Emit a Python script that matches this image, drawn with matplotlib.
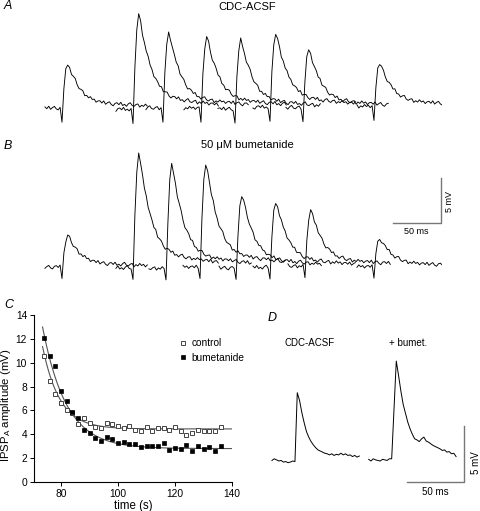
import numpy as np
import matplotlib
matplotlib.use('Agg')
import matplotlib.pyplot as plt

plt.rcParams['font.family'] = ['Liberation Sans', 'DejaVu Sans']

# ---- panel A / B : stimulus times (ms) and IPSP peak amplitudes (mV)
a_stim = [23.2, 98.1, 129.7, 169.8, 205.7, 242.6, 277.4, 352.3]
a_amp = [4.95, 10.7, 8.45, 8.0, 7.77, 8.33, 6.53, 4.84]
a_base = [0.0, -0.15, 0.0, 0.0, -0.1, 0.1, 0.05, 0.2]
b_stim = [23.2, 98.1, 132.9, 168.8, 206.8, 242.6, 279.5, 352.3]
b_amp = [3.5, 12.9, 11.7, 11.7, 8.2, 7.4, 6.3, 3.15]
b_base = [0.0, -0.1, -0.15, 0.0, -0.1, -0.05, 0.1, 0.05]

# normalised IPSP waveform, 2 ms steps from the stimulus
psp_shape = [0.0, 0.45, 0.85, 1.0, 0.92, 0.8, 0.7, 0.62, 0.54, 0.47, 0.41, 0.36,
             0.32, 0.28, 0.25, 0.22, 0.2, 0.18, 0.165, 0.15, 0.14, 0.13, 0.12,
             0.115, 0.11, 0.105, 0.1, 0.095, 0.09, 0.09, 0.085, 0.085, 0.08,
             0.08, 0.075, 0.075, 0.07, 0.07, 0.065, 0.065, 0.06, 0.06, 0.055,
             0.055, 0.05, 0.05]
noise = [0.12, -0.08, 0.2, -0.15, 0.05, 0.18, -0.1, -0.22, 0.08, 0.15, -0.05,
         0.22, -0.12, 0.02, -0.18, 0.1, 0.25, -0.06, -0.14, 0.07, 0.16, -0.2,
         0.04, -0.09, 0.19, -0.03, 0.11, -0.16, 0.06]

# ---- panel C : IPSP_A amplitude vs time
t_sec = list(range(74, 138, 2))
control = [10.6, 8.5, 7.4, 6.6, 6.0, 5.8, 4.9, 5.4, 4.95, 4.6, 4.5, 4.95, 4.9,
           4.7, 4.55, 4.7, 4.4, 4.25, 4.6, 4.25, 4.5, 4.5, 4.4, 4.6, 4.3, 3.9,
           4.1, 4.4, 4.25, 4.25, 4.3, 4.6]
bumet = [12.1, 10.55, 9.7, 7.6, 6.75, 5.85, 5.4, 4.35, 4.1, 3.7, 3.45, 3.75, 3.6,
         3.25, 3.35, 3.2, 3.15, 2.9, 3.05, 3.0, 3.0, 3.25, 2.7, 2.85, 2.75, 3.1,
         2.6, 3.0, 2.8, 2.9, 2.6, 3.0]
# single exponential fits: plateau, amplitude at 74 s, tau (s)
fit_control = (4.45, 6.35, 6.0)
fit_bumet = (2.8, 9.6, 8.3)

# ---- panel D : averaged traces (mV), 2 ms steps from 20 ms before the stimulus
d_ctrl = [0.1, 0.25, 0.15, 0.05, 0.1, -0.05, 0.0, -0.1, -0.05, 0.05,
          0.0, 6.2, 5.5, 4.4, 3.5, 2.7, 2.2, 1.8, 1.5, 1.25, 1.05, 0.95, 0.85,
          0.75, 0.7, 0.6, 0.7, 0.55, 0.65, 0.6, 0.75, 0.6, 0.7, 0.55, 0.6,
          0.45, 0.55, 0.4, 0.5]
d_bumet = [0.05, -0.1, 0.1, 0.0, -0.05, -0.1, 0.05, 0.0, -0.05, 0.1,
           0.1, 4.5, 8.9, 7.6, 6.2, 5.0, 4.2, 3.4, 2.8, 2.3, 1.9, 1.8, 1.65,
           1.9, 2.05, 1.7, 1.6, 1.45, 1.3, 1.2, 1.1, 1.0, 0.85, 0.9, 0.7, 0.75,
           0.55, 0.6, 0.3]
d_stim = [30.4, 114.5]
d_base = [-0.05, 0.1]

W, H = 480, 511
fig = plt.figure(figsize=(W / 100, H / 100), dpi=100)


def px_axes(x0, y0, x1, y1):
    return fig.add_axes([x0 / W, 1 - y1 / H, (x1 - x0) / W, (y1 - y0) / H])


def ftext(x, y, s, **kw):
    kw.setdefault('ha', 'center')
    kw.setdefault('va', 'center')
    fig.text(x / W, 1 - y / H, s, **kw)


def draw_sweeps(ax, stims, amps, bases, art, off):
    pre = 9
    shape = np.r_[np.zeros(pre), psp_shape]
    for i, (s, a, b) in enumerate(zip(stims, amps, bases)):
        t = s + 2.0 * np.arange(-pre, len(psp_shape))
        nz = np.array([noise[(k + i * 7 + off) % len(noise)] for k in range(len(t))])
        v = b + a * shape + nz
        v[pre] = b - art
        ax.plot(t, v, color='black', lw=0.65)


# ---- A
pxms, pxmv = 0.948, 8.88
axA = px_axes(40, 0, 442, 130)
axA.set_xlim(0, 402 / pxms)
axA.set_ylim(-22 / pxmv, 108 / pxmv)
axA.axis('off')
draw_sweeps(axA, a_stim, a_amp, a_base, 1.6, 0)

# ---- B
axB = px_axes(40, 130, 442, 290)
axB.set_xlim(0, 402 / pxms)
axB.set_ylim(-23 / pxmv, 137 / pxmv)
axB.axis('off')
draw_sweeps(axB, b_stim, b_amp, b_base, 1.3, 3)
axB.plot([372.7, 422.7, 422.7], [5, 5, 10], color='#777777', lw=1, clip_on=False)

ftext(247, 7, 'CDC-ACSF', fontsize=8)
ftext(247, 145, '50 μM bumetanide', fontsize=8)
ftext(416.7, 231, '50 ms', fontsize=6.5)
ftext(450, 201, '5 mV', fontsize=6.5, rotation=90)
ftext(4, 6, 'A', fontsize=9, style='italic', ha='left')
ftext(4, 146, 'B', fontsize=9, style='italic', ha='left')
ftext(4, 305, 'C', fontsize=9, style='italic', ha='left')
ftext(268, 318, 'D', fontsize=9, style='italic', ha='left')

# ---- C
axC = px_axes(34, 315, 232, 482)
tt = np.linspace(73.5, 140, 200)
for (p, a, tau) in (fit_control, fit_bumet):
    axC.plot(tt, p + a * np.exp(-(tt - 74) / tau), color='#555555', lw=0.8)
axC.plot(t_sec, control, 's', ms=3.2, mfc='white', mec='#444444', mew=0.7,
         label='control', ls='none')
axC.plot(t_sec, bumet, 's', ms=3.2, mfc='black', mec='black', mew=0.5,
         label='bumetanide', ls='none')
axC.set_xlim(70.5, 140)
axC.set_ylim(0, 14)
axC.set_xticks([80, 100, 120, 140])
axC.set_yticks(range(0, 15, 2))
axC.spines['top'].set_visible(False)
axC.spines['right'].set_visible(False)
for sp in ('left', 'bottom'):
    axC.spines[sp].set_linewidth(0.8)
axC.tick_params(direction='out', length=3, width=0.7, labelsize=7.4, pad=2)
axC.set_xlabel('time (s)', fontsize=8.3, labelpad=1)
axC.set_ylabel('IPSP$_\\mathregular{A}$ amplitude (mV)', fontsize=8.2,
               va='center')
axC.yaxis.set_label_coords(-0.14, 0.46)
axC.legend(loc='upper left', bbox_to_anchor=(0.7, 0.89), frameon=False,
           fontsize=7.3, handlelength=1, handletextpad=0.4, labelspacing=0.45,
           borderpad=0)

# ---- D
dms, dmv = 1.15, 11.1
axD = px_axes(260, 330, 480, 500)
axD.set_xlim(0, 220 / dms)
axD.set_ylim(-39 / dmv, 131 / dmv)
axD.axis('off')
for s, b, tr in zip(d_stim, d_base, (d_ctrl, d_bumet)):
    t = s + 2.0 * np.arange(-10, len(tr) - 10)
    axD.plot(t, np.array(tr) + b, color='black', lw=0.7)
axD.plot([127.6, 177.6, 177.6], [-1.86, -1.86, 3.14], color='#777777', lw=1,
         clip_on=False)
ftext(310, 343, 'CDC-ACSF', fontsize=7)
ftext(408, 343, '+ bumet.', fontsize=7)
ftext(435, 492, '50 ms', fontsize=7)
ftext(476, 463, '5 mV', fontsize=7, rotation=90)

fig.savefig('out.png', dpi=100)
